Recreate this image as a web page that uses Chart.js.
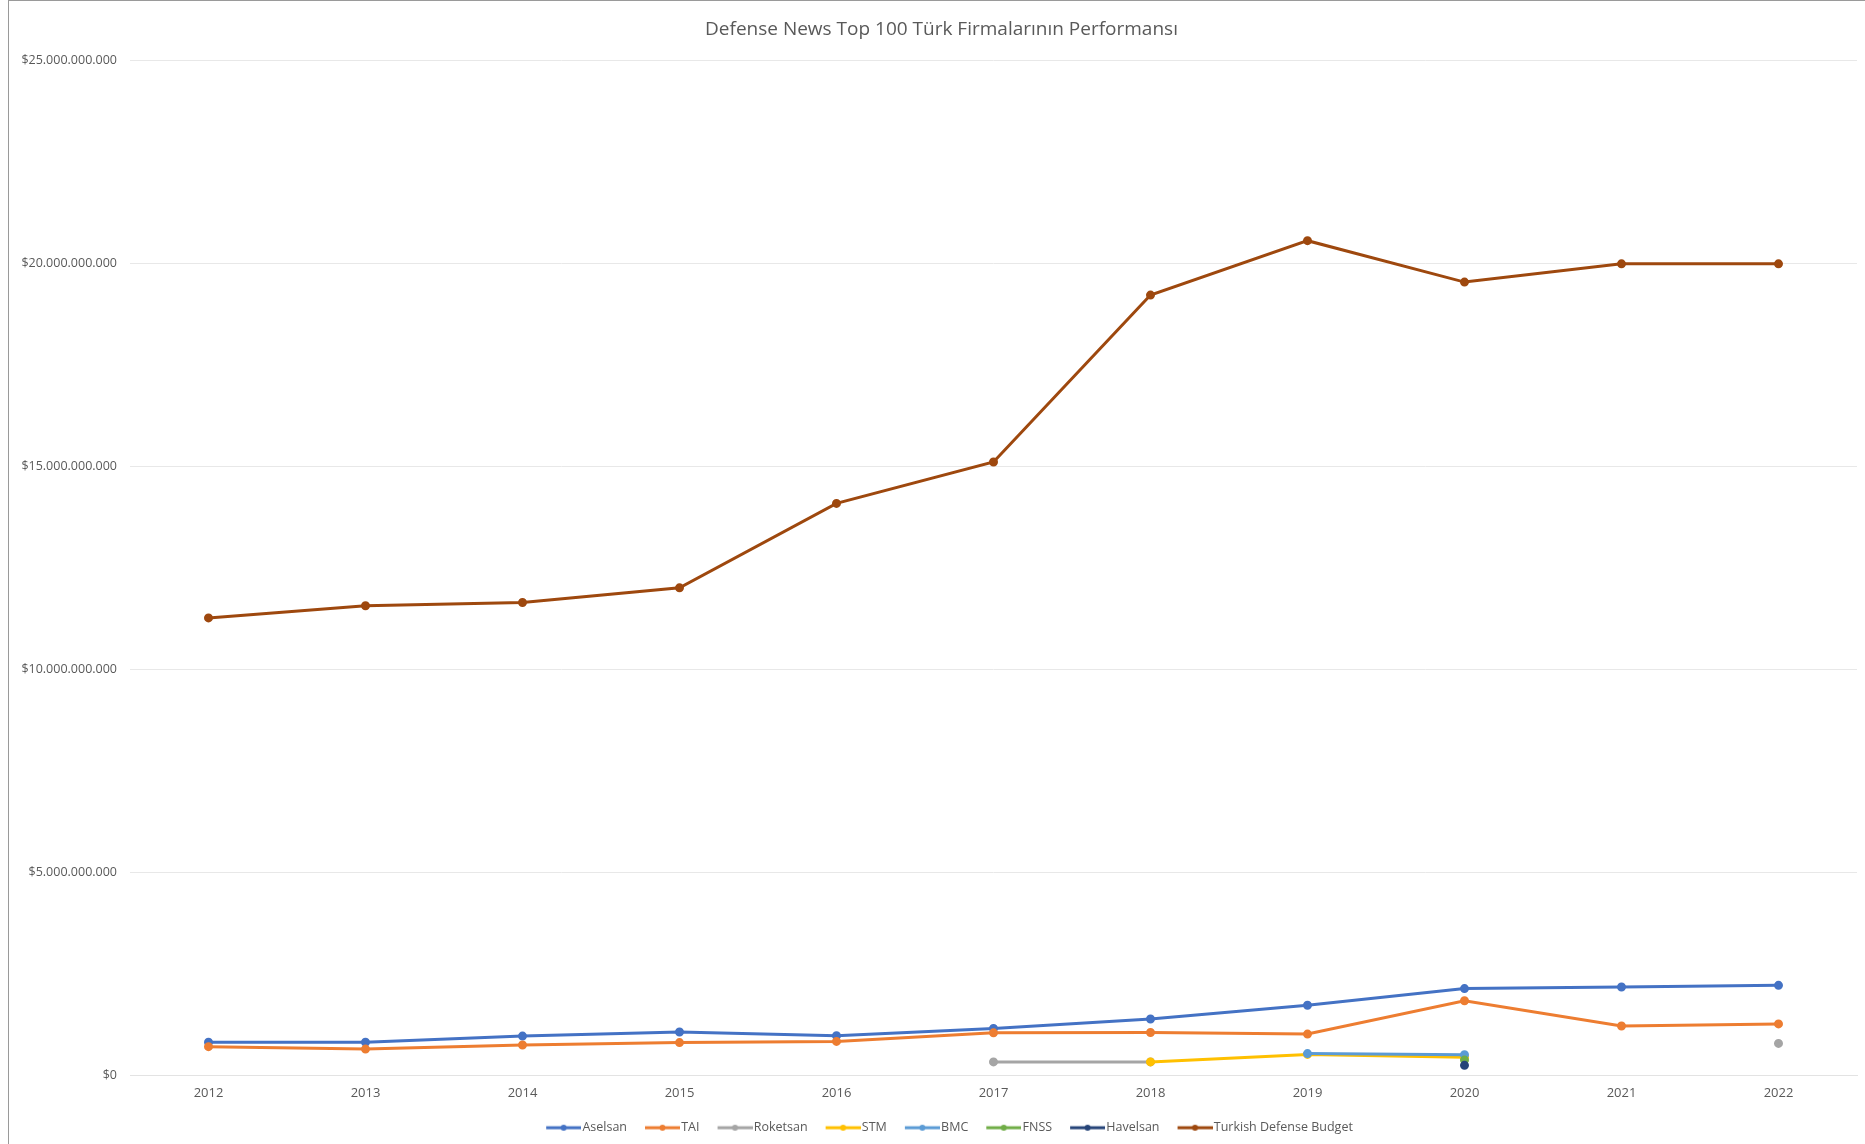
<!DOCTYPE html>
<html>
<head>
<meta charset="utf-8">
<script src="https://cdn.jsdelivr.net/npm/chart.js@4.4.1/dist/chart.umd.min.js"></script>
<style>
  html, body { margin: 0; padding: 0; background: #ffffff; }
  #wrap { position: relative; width: 1865px; height: 1144px; overflow: hidden; }
  #c { position: absolute; left: 0; top: 0; }
  #bl { position: absolute; left: 8px; top: 0; width: 1px; height: 1144px; background: #9a9a9a; }
  #bt { position: absolute; left: 8px; top: 0; width: 1857px; height: 1px; background: #9a9a9a; }
</style>
</head>
<body>
<div id="wrap">
  <canvas id="c" width="1865" height="1144"></canvas>
  <div id="bl"></div>
  <div id="bt"></div>
</div>
<script>
const years = ['2012','2013','2014','2015','2016','2017','2018','2019','2020','2021','2022'];
const aselsan  = [0.83e9, 0.83e9, 0.98e9, 1.08e9, 0.99e9, 1.17e9, 1.40e9, 1.74e9, 2.15e9, 2.19e9, 2.23e9];
const tai      = [0.72e9, 0.66e9, 0.76e9, 0.82e9, 0.85e9, 1.06e9, 1.07e9, 1.03e9, 1.85e9, 1.23e9, 1.28e9];
const roketsan = [null, null, null, null, null, 0.345e9, 0.345e9, null, null, null, 0.80e9];
const stm      = [null, null, null, null, null, null, 0.345e9, 0.53e9, 0.46e9, null, null];
const bmc      = [null, null, null, null, null, null, null, 0.55e9, 0.52e9, null, null];
const fnss     = [null, null, null, null, null, null, null, null, 0.39e9, null, null];
const havelsan = [null, null, null, null, null, null, null, null, 0.26e9, null, null];
const budget   = [11.28e9, 11.58e9, 11.66e9, 12.02e9, 14.10e9, 15.12e9, 19.23e9, 20.57e9, 19.55e9, 20.0e9, 20.0e9];
const yTicks   = [0, 5e9, 10e9, 15e9, 20e9, 25e9];

const seriesNames  = ['Aselsan','TAI','Roketsan','STM','BMC','FNSS','Havelsan','Turkish Defense Budget'];
const seriesData   = [aselsan, tai, roketsan, stm, bmc, fnss, havelsan, budget];
const seriesColors = ['#4472C4','#ED7D31','#A5A5A5','#FFC000','#5B9BD5','#70AD47','#264478','#9E480E'];

const FONT = '"Open Sans", "Noto Sans", sans-serif';

function legendIcon(color) {
  const cv = document.createElement('canvas');
  cv.width = 48; cv.height = 10;
  const g = cv.getContext('2d');
  g.strokeStyle = color; g.lineWidth = 3;
  g.beginPath(); g.moveTo(13, 5); g.lineTo(48, 5); g.stroke();
  g.fillStyle = color;
  g.beginPath(); g.arc(30.5, 5, 3, 0, Math.PI * 2); g.fill();
  return cv;
}

const datasets = seriesNames.map((name, i) => ({
  label: name,
  data: seriesData[i],
  borderColor: seriesColors[i],
  backgroundColor: seriesColors[i],
  borderWidth: 3,
  pointRadius: 3,
  pointHoverRadius: 3,
  pointStyle: 'circle',
  spanGaps: false,
  tension: 0,
  order: -i
}));

function fmtMoney(v) {
  const s = Math.round(v).toString().replace(/\B(?=(\d{3})+(?!\d))/g, '.');
  return '$' + s;
}

const blockShift = {
  id: 'blockShift',
  afterLayout(chart) {
    if (chart.titleBlock) { chart.titleBlock.left += 26; }
    if (chart.legend) { chart.legend.left += 30; chart.legend.right += 4; }
  }
};

new Chart(document.getElementById('c'), {
  type: 'line',
  data: { labels: years, datasets },
  plugins: [blockShift],
  options: {
    responsive: false,
    animation: false,
    layout: { padding: { left: 0, right: 8, top: 0, bottom: 0 } },
    plugins: {
      title: {
        display: true,
        text: 'Defense News Top 100 Türk Firmalarının Performansı',
        color: '#595959',
        font: { family: FONT, size: 19, weight: 'normal' },
        padding: { top: 18, bottom: 20 }
      },
      legend: {
        position: 'bottom',
        labels: {
          color: '#595959',
          font: { family: FONT, size: 12.5 },
          usePointStyle: true,
          pointStyleWidth: 38,
          boxHeight: 10,
          padding: 10,
          sort: (a, b) => a.datasetIndex - b.datasetIndex,
          generateLabels: (chart) => {
            const items = Chart.defaults.plugins.legend.labels.generateLabels(chart);
            items.forEach(it => { it.pointStyle = legendIcon(seriesColors[it.datasetIndex]); });
            return items;
          }
        }
      },
      tooltip: { enabled: false }
    },
    scales: {
      x: {
        offset: true,
        grid: { display: false, drawTicks: false },
        border: { display: true, color: '#E3E3E3', width: 1 },
        ticks: { color: '#595959', font: { family: FONT, size: 13 }, padding: 10 }
      },
      y: {
        min: 0,
        max: 25e9,
        afterFit: (s) => { s.width = 130; },
        afterBuildTicks: (s) => { s.ticks = yTicks.map(v => ({ value: v })); },
        grid: { color: '#E8E8E8', drawTicks: false },
        border: { display: false },
        ticks: {
          color: '#595959',
          font: { family: FONT, size: 12.5 },
          padding: 13,
          callback: (v) => fmtMoney(v)
        }
      }
    }
  }
});
</script>
</body>
</html>
